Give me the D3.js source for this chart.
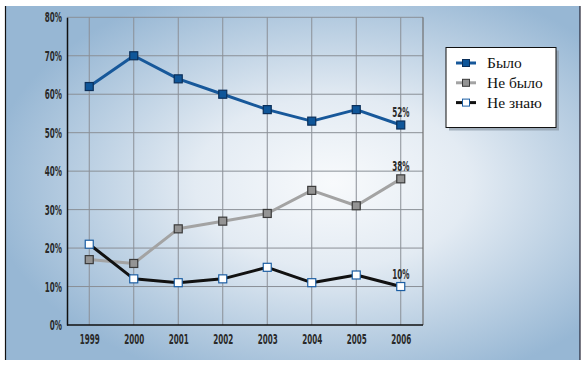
<!DOCTYPE html>
<html><head><meta charset="utf-8">
<script src="https://cdn.jsdelivr.net/npm/d3@7"></script>
<style>
html,body{margin:0;padding:0;background:#fff;}
svg{display:block;}
</style>
</head><body>
<svg id="chart" width="586" height="367"></svg>
<script>
const years = ["1999","2000","2001","2002","2003","2004","2005","2006"];
const bylo = [62,70,64,60,56,53,56,52];
const neBylo = [17,16,25,27,29,35,31,38];
const neZnayu = [21,12,11,12,15,11,13,10];
const yTicks = [0,10,20,30,40,50,60,70,80];
const seriesNames = ["Было","Не было","Не знаю"];

(function(){
const svg = d3.select("#chart");
const defs = svg.append("defs");
const grad = defs.append("radialGradient").attr("id","bg")
  .attr("cx","0.57").attr("cy","0.5").attr("r","0.6");
grad.append("stop").attr("offset","0").attr("stop-color","#f8fafc");
grad.append("stop").attr("offset","0.4").attr("stop-color","#e3ebf3");
grad.append("stop").attr("offset","1").attr("stop-color","#97b7d4");

svg.append("rect").attr("x",5).attr("y",6).attr("width",575).attr("height",354).attr("fill","url(#bg)");
svg.append("line").attr("x1",5.5).attr("x2",5.5).attr("y1",6).attr("y2",360).attr("stroke","#111").attr("stroke-width",1.2);
svg.append("line").attr("x1",580).attr("x2",580).attr("y1",6).attr("y2",360).attr("stroke","#223").attr("stroke-width",1.2);

const pL=67, pR=423, pT=17.3, pB=325;
const x = d3.scalePoint().domain(years).range([pL,pR]).padding(0.5);
const y = d3.scaleLinear().domain([0,80]).range([pB,pT]);

const g = svg.append("g");
g.selectAll(".hg").data(yTicks.filter(d=>d>0)).join("line")
  .attr("x1",pL).attr("x2",pR).attr("y1",d=>y(d)).attr("y2",d=>y(d))
  .attr("stroke","#8a8f96").attr("stroke-width",1);
g.selectAll(".vg").data(years).join("line")
  .attr("x1",d=>x(d)).attr("x2",d=>x(d)).attr("y1",pT).attr("y2",pB)
  .attr("stroke","#8a8f96").attr("stroke-width",1);
g.append("line").attr("x1",pR).attr("x2",pR).attr("y1",pT).attr("y2",pB).attr("stroke","#707070").attr("stroke-width",1.2);

function cond(sel){
  sel.style("font-family",'"DejaVu Sans Condensed","DejaVu Sans",sans-serif')
     .style("font-size","14px").style("font-weight","bold").style("fill","#2a2a2a");
  sel.each(function(){
    const n = this.getComputedTextLength();
    d3.select(this).attr("textLength", n*0.57).attr("lengthAdjust","spacingAndGlyphs");
  });
}

const yAxis = d3.axisLeft(y).tickValues(yTicks).tickFormat(d=>d+"%").tickSize(0).tickPadding(5);
const ya = svg.append("g").attr("transform",`translate(${pL},0)`).call(yAxis);
ya.select(".domain").attr("stroke","#111").attr("stroke-width",1.5);
ya.selectAll("text").call(cond);
const xAxis = d3.axisBottom(x).tickSize(0).tickPadding(9);
const xa = svg.append("g").attr("transform",`translate(0,${pB})`).call(xAxis);
xa.select(".domain").attr("stroke","#111").attr("stroke-width",1.5).attr("d",`M${pL},0H${pR}`);
xa.selectAll("text").call(cond);

const series = [
  {name:seriesNames[0], vals:bylo, line:"#17589a", fill:"#0f5699", stroke:"#0b2f5a"},
  {name:seriesNames[1], vals:neBylo, line:"#a3a3a3", fill:"#949494", stroke:"#3a3a3a"},
  {name:seriesNames[2], vals:neZnayu, line:"#111111", fill:"#ffffff", stroke:"#1c5ea3"}
];
const lineGen = d3.line().x((d,i)=>x(years[i])).y(d=>y(d));
const ms = 8;
series.forEach(s=>{
  svg.append("path").attr("d",lineGen(s.vals)).attr("fill","none")
    .attr("stroke",s.line).attr("stroke-width",3).attr("stroke-linejoin","round");
});
series.forEach(s=>{
  svg.append("g").selectAll("rect").data(s.vals).join("rect")
    .attr("x",(d,i)=>x(years[i])-ms/2).attr("y",d=>y(d)-ms/2)
    .attr("width",ms).attr("height",ms)
    .attr("fill",s.fill).attr("stroke",s.stroke).attr("stroke-width",1.2);
  const last = s.vals.length-1;
  svg.append("text").attr("x",x(years[last])).attr("y",y(s.vals[last])-8)
    .attr("text-anchor","middle")
    .text(s.vals[last]+"%").call(cond);
});

const lx=446, ly=47.5, lw=110, lh=80;
svg.append("rect").attr("x",lx+3).attr("y",ly+3).attr("width",lw).attr("height",lh).attr("fill","#8c9aa8").attr("opacity",0.7);
svg.append("rect").attr("x",lx).attr("y",ly).attr("width",lw).attr("height",lh).attr("fill","#fff").attr("stroke","#111").attr("stroke-width",1);
series.forEach((s,i)=>{
  const cy = 63 + i*19.8;
  svg.append("line").attr("x1",456).attr("x2",476).attr("y1",cy).attr("y2",cy).attr("stroke",s.line).attr("stroke-width",3);
  svg.append("rect").attr("x",466-3.5).attr("y",cy-3.5).attr("width",7).attr("height",7)
    .attr("fill",s.fill).attr("stroke",s.stroke).attr("stroke-width",1);
  svg.append("text").attr("x",487).attr("y",cy+5)
    .style("font-family",'"Liberation Serif"').style("font-size","15.5px").style("fill","#111")
    .text(s.name);
});
})();
</script>
</body></html>
